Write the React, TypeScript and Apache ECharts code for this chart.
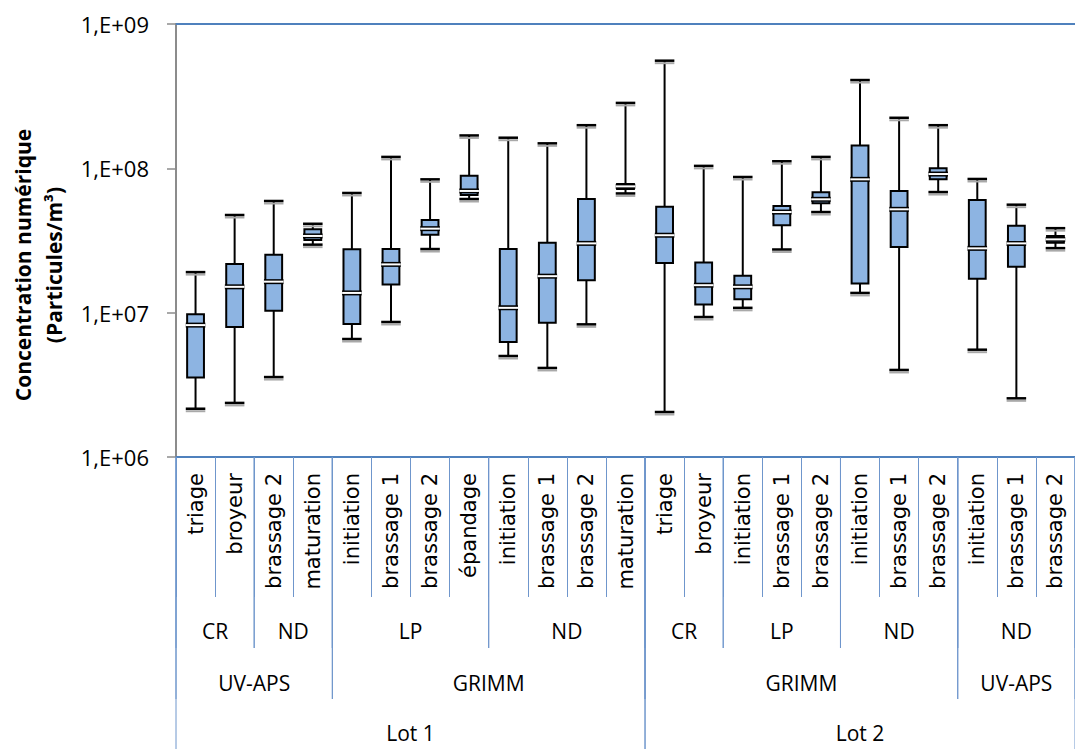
import React, { useEffect, useRef } from 'react';
import * as echarts from 'echarts';

// Measurement points, in the order they are read along the axis
const categories = [
  'triage', 'broyeur', 'brassage 2', 'maturation',
  'initiation', 'brassage 1', 'brassage 2', 'épandage',
  'initiation', 'brassage 1', 'brassage 2', 'maturation',
  'triage', 'broyeur',
  'initiation', 'brassage 1', 'brassage 2',
  'initiation', 'brassage 1', 'brassage 2',
  'initiation', 'brassage 1', 'brassage 2',
];

// Box plot statistics (particules/m³)
const minValues = [
  2.16e6, 2.37e6, 3.58e6, 2.96e7,
  6.57e6, 8.62e6, 2.76e7, 6.13e7,
  5.01e6, 4.14e6, 8.3e6, 6.7e7,
  2.05e6, 9.33e6,
  1.08e7, 2.74e7, 4.98e7,
  1.37e7, 4.01e6, 6.85e7,
  5.54e6, 2.55e6, 2.8e7,
];
const q1Values = [
  3.56e6, 7.96e6, 1.03e7, 3.19e7,
  8.34e6, 1.57e7, 3.47e7, 6.53e7,
  6.26e6, 8.52e6, 1.68e7, 7.2e7,
  2.21e7, 1.14e7,
  1.24e7, 4.03e7, 5.72e7,
  1.59e7, 2.85e7, 8.39e7,
  1.72e7, 2.08e7, 3.05e7,
];
const medianValues = [
  8.2e6, 1.51e7, 1.64e7, 3.4e7,
  1.37e7, 2.16e7, 3.82e7, 6.97e7,
  1.08e7, 1.79e7, 3.02e7, 7.5e7,
  3.44e7, 1.55e7,
  1.51e7, 4.98e7, 6.1e7,
  8.39e7, 5.2e7, 9.13e7,
  2.79e7, 3.02e7, 3.22e7,
];
const q3Values = [
  9.75e6, 2.17e7, 2.52e7, 3.78e7,
  2.75e7, 2.76e7, 4.39e7, 8.89e7,
  2.76e7, 3.05e7, 6.13e7, 7.8e7,
  5.42e7, 2.23e7,
  1.8e7, 5.48e7, 6.82e7,
  1.44e8, 6.97e7, 1.0e8,
  6.03e7, 4.0e7, 3.4e7,
];
const maxValues = [
  1.91e7, 4.75e7, 5.94e7, 4.13e7,
  6.75e7, 1.2e8, 8.39e7, 1.69e8,
  1.63e8, 1.49e8, 1.99e8, 2.84e8,
  5.57e8, 1.04e8,
  8.71e7, 1.12e8, 1.2e8,
  4.09e8, 2.24e8, 1.99e8,
  8.44e7, 5.6e7, 3.85e7,
];

// Hierarchical axis groups: [first category, last category, label]
const zoneGroups: [number, number, string][] = [
  [0, 1, 'CR'], [2, 3, 'ND'], [4, 7, 'LP'], [8, 11, 'ND'],
  [12, 13, 'CR'], [14, 16, 'LP'], [17, 19, 'ND'], [20, 22, 'ND'],
];
const instrumentGroups: [number, number, string][] = [
  [0, 3, 'UV-APS'], [4, 11, 'GRIMM'], [12, 19, 'GRIMM'], [20, 22, 'UV-APS'],
];
const lotGroups: [number, number, string][] = [
  [0, 11, 'Lot 1'], [12, 22, 'Lot 2'],
];

const yTickLabels = ['1,E+06', '1,E+07', '1,E+08', '1,E+09'];
const Y_MIN = 1e6;
const Y_MAX = 1e9;

const BLUE = '#4F81BD';
const SEP = '#6F96CC';
const BOX_FILL = '#8DB4E2';
const LABEL_FONT = '"Open Sans", "Liberation Sans", sans-serif';

function groupSeries(groups: [number, number, string][], textOffset: number, lineDepth: number) {
  return {
    type: 'custom',
    xAxisIndex: 0,
    yAxisIndex: 0,
    clip: false,
    silent: true,
    z: 1,
    data: groups.map((g) => [g[0], Y_MIN, g[1]]),
    encode: { x: 0, y: 1 },
    renderItem: (params: any, api: any) => {
      const band = api.size([1, 0])[0];
      const [xs, y0] = api.coord([api.value(0), Y_MIN]);
      const xe = api.coord([api.value(2), Y_MIN])[0];
      const left = xs - band / 2;
      const right = xe + band / 2;
      const lineStyle = { stroke: SEP, lineWidth: 1 };
      return {
        type: 'group',
        children: [
          { type: 'line', shape: { x1: left, y1: y0, x2: left, y2: y0 + lineDepth }, style: lineStyle },
          { type: 'line', shape: { x1: right, y1: y0, x2: right, y2: y0 + lineDepth }, style: lineStyle },
          {
            type: 'text',
            x: (left + right) / 2,
            y: y0 + textOffset,
            style: {
              text: groups[params.dataIndex][2],
              fill: '#000',
              font: `21px ${LABEL_FONT}`,
              align: 'center',
              verticalAlign: 'middle',
            },
          },
        ],
      };
    },
  };
}

export default function App() {
  const ref = useRef<HTMLDivElement>(null);

  useEffect(() => {
    if (!ref.current) return;
    const chart = echarts.init(ref.current, undefined, { renderer: 'svg' });

    const boxData = categories.map((_, i) => [
      i, minValues[i], q1Values[i], medianValues[i], q3Values[i], maxValues[i],
    ]);

    chart.setOption({
      animation: false,
      backgroundColor: '#fff',
      grid: { left: 176, top: 24, width: 910, height: 433, containLabel: false },
      xAxis: [
        {
          type: 'category',
          data: categories,
          position: 'bottom',
          axisLine: { show: true, lineStyle: { color: BLUE, width: 2 } },
          axisTick: { show: true, interval: 0, length: 140, lineStyle: { color: SEP, width: 1 } },
          axisLabel: {
            interval: 0,
            rotate: 90,
            margin: 16,
            fontFamily: '"DejaVu Sans", Verdana, sans-serif',
            fontSize: 21,
            color: '#000',
          },
          splitLine: { show: false },
        },
        {
          type: 'category',
          data: categories,
          position: 'top',
          axisLine: { show: true, lineStyle: { color: BLUE, width: 2 } },
          axisTick: { show: false },
          axisLabel: { show: false },
        },
      ],
      yAxis: {
        type: 'log',
        logBase: 10,
        min: Y_MIN,
        max: Y_MAX,
        axisLine: { show: true, lineStyle: { color: '#8C8C8C', width: 2 } },
        axisTick: { show: true, length: 9, lineStyle: { color: '#8C8C8C', width: 1.5 } },
        axisLabel: {
          margin: 27,
          fontFamily: LABEL_FONT,
          fontSize: 22,
          color: '#000',
          formatter: (v: number) => yTickLabels[Math.round(Math.log10(v)) - 6] ?? '',
        },
        splitLine: { show: false },
        minorTick: { show: false },
      },
      graphic: [
        {
          type: 'text',
          x: 23,
          y: 265,
          rotation: Math.PI / 2,
          style: {
            text: 'Concentration numérique',
            font: `bold 21px ${LABEL_FONT}`,
            fill: '#000',
            align: 'center',
            verticalAlign: 'middle',
          },
        },
        {
          type: 'text',
          x: 54,
          y: 265,
          rotation: Math.PI / 2,
          style: {
            text: '(Particules/m³)',
            font: `bold 21px ${LABEL_FONT}`,
            fill: '#000',
            align: 'center',
            verticalAlign: 'middle',
          },
        },
      ],
      series: [
        {
          type: 'custom',
          name: 'Concentration',
          clip: false,
          z: 5,
          data: boxData,
          encode: { x: 0, y: [1, 2, 3, 4, 5] },
          renderItem: (params: any, api: any) => {
            const i = api.value(0);
            const band = api.size([1, 0])[0];
            const bw = band * 0.43;
            const cw = band * 0.5;
            const [x, yMin] = api.coord([i, api.value(1)]);
            const yQ1 = api.coord([i, api.value(2)])[1];
            const yMed = api.coord([i, api.value(3)])[1];
            const yQ3 = api.coord([i, api.value(4)])[1];
            const yMax = api.coord([i, api.value(5)])[1];
            const black = { stroke: '#000', lineWidth: 2 };
            const shadow = { stroke: '#A9A9A9', lineWidth: 2 };
            return {
              type: 'group',
              children: [
                { type: 'line', shape: { x1: x, y1: yMax, x2: x, y2: yQ3 }, style: black },
                { type: 'line', shape: { x1: x, y1: yQ1, x2: x, y2: yMin }, style: black },
                { type: 'line', shape: { x1: x - cw / 2, y1: yMax + 2.5, x2: x + cw / 2, y2: yMax + 2.5 }, style: shadow },
                { type: 'line', shape: { x1: x - cw / 2, y1: yMin + 2.5, x2: x + cw / 2, y2: yMin + 2.5 }, style: shadow },
                { type: 'line', shape: { x1: x - cw / 2, y1: yMax, x2: x + cw / 2, y2: yMax }, style: { stroke: '#000', lineWidth: 2.5 } },
                { type: 'line', shape: { x1: x - cw / 2, y1: yMin, x2: x + cw / 2, y2: yMin }, style: { stroke: '#000', lineWidth: 2.5 } },
                {
                  type: 'rect',
                  shape: { x: x - bw / 2, y: yQ3, width: bw, height: yMed - yQ3 },
                  style: { fill: BOX_FILL, stroke: '#000', lineWidth: 2 },
                },
                {
                  type: 'rect',
                  shape: { x: x - bw / 2, y: yMed, width: bw, height: yQ1 - yMed },
                  style: { fill: BOX_FILL, stroke: '#000', lineWidth: 2 },
                },
                {
                  type: 'rect',
                  shape: { x: x - cw / 2, y: yMed - 2.5, width: cw, height: 5 },
                  style: { fill: '#000' },
                },
                {
                  type: 'line',
                  shape: { x1: x - cw / 2, y1: yMed, x2: x + cw / 2, y2: yMed },
                  style: { stroke: '#fff', lineWidth: 2 },
                },
              ],
            };
          },
        },
        groupSeries(zoneGroups, 174, 191),
        groupSeries(instrumentGroups, 226, 242),
        groupSeries(lotGroups, 276, 320),
      ],
    });

    return () => chart.dispose();
  }, []);

  return (
    <div
      ref={ref}
      style={{ position: 'absolute', left: 0, top: 0, width: 1075, height: 749 }}
    />
  );
}
